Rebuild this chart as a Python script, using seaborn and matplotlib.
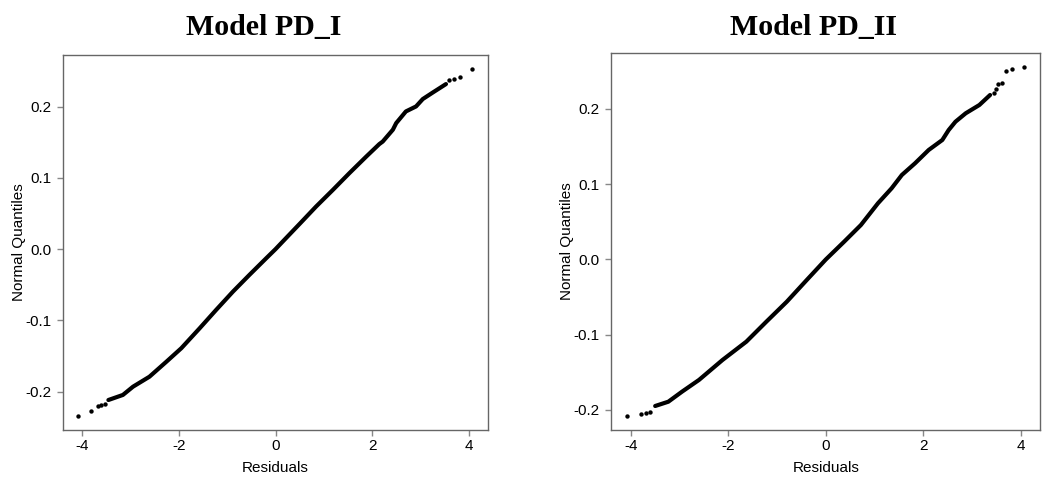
import matplotlib
matplotlib.use("Agg")
import matplotlib.pyplot as plt
import seaborn as sns
import pandas as pd

# ---- data (Residuals vs Normal Quantiles) ----
titles = ["Model PD_I", "Model PD_II"]

pd1_band_x = [-3.46, -3.16, -2.95, -2.61, -2.26, -1.95, -1.57, -1.23, -0.88, -0.54,
              -0.19, 0.0, 0.15, 0.50, 0.84, 1.19, 1.53, 1.88, 2.15, 2.22, 2.43, 2.50,
              2.70, 2.91, 3.05, 3.26, 3.53]
pd1_band_y = [-0.2117, -0.2046, -0.193, -0.179, -0.158, -0.139, -0.111, -0.0853, -0.0595,
              -0.0361, -0.0126, 0.0, 0.0107, 0.0355, 0.0598, 0.0833, 0.1067, 0.130, 0.1475,
              0.151, 0.1676, 0.177, 0.1933, 0.2003, 0.2107, 0.22, 0.2317]
pd1_tail_x = [-4.09, -3.81, -3.68, -3.62, -3.53, 3.60, 3.69, 3.82, 4.07]
pd1_tail_y = [-0.2337, -0.2267, -0.2197, -0.2187, -0.2168, 0.2378, 0.2388, 0.2416, 0.2528]

pd2_band_x = [-3.50, -3.23, -2.95, -2.60, -2.12, -1.63, -1.22, -0.80, -0.39, 0.0, 0.377,
              0.72, 1.07, 1.35, 1.56, 1.83, 2.11, 2.39, 2.52, 2.66, 2.87, 3.15, 3.37]
pd2_band_y = [-0.1947, -0.189, -0.1757, -0.160, -0.1336, -0.1092, -0.0827, -0.0561, -0.0272,
              0.0, 0.0237, 0.0458, 0.0747, 0.0946, 0.1123, 0.1278, 0.1455, 0.1588, 0.172,
              0.1831, 0.1943, 0.2053, 0.2186]
pd2_tail_x = [-4.07, -3.80, -3.68, -3.60, 3.44, 3.49, 3.53, 3.61, 3.69, 3.82, 4.07]
pd2_tail_y = [-0.208, -0.2057, -0.2044, -0.2027, 0.2209, 0.2262, 0.2328, 0.2342, 0.2509,
              0.2528, 0.2562]

x_ticks = [-4, -2, 0, 2, 4]
x_tick_labels = ["-4", "-2", "0", "2", "4"]
y_ticks = [-0.2, -0.1, 0.0, 0.1, 0.2]
y_tick_labels = ["-0.2", "-0.1", "0.0", "0.1", "0.2"]

# ---- styling ----
sns.set_theme(style="white")
plt.rcParams["font.family"] = ["Liberation Sans", "DejaVu Sans"]
plt.rcParams["axes.unicode_minus"] = False

W, H = 1049, 479
fig = plt.figure(figsize=(W / 100, H / 100), dpi=100)

panels = [
    dict(rect=[63 / W, 1 - 430 / H, 425 / W, 375 / H], ylim=(-0.2538, 0.2725),
         bx=pd1_band_x, by=pd1_band_y, tx=pd1_tail_x, ty=pd1_tail_y, tcx=263.5 / W),
    dict(rect=[611.3 / W, 1 - 430 / H, 429 / W, 377 / H], ylim=(-0.2266, 0.2744),
         bx=pd2_band_x, by=pd2_band_y, tx=pd2_tail_x, ty=pd2_tail_y, tcx=814 / W),
]

spine_col = "#666666"
for p, title in zip(panels, titles):
    ax = fig.add_axes(p["rect"])
    band = pd.DataFrame({"Residuals": p["bx"], "Normal Quantiles": p["by"]})
    tail = pd.DataFrame({"Residuals": p["tx"], "Normal Quantiles": p["ty"]})
    sns.lineplot(data=band, x="Residuals", y="Normal Quantiles", ax=ax, color="black",
                 linewidth=3.0, sort=False, estimator=None, solid_capstyle="round",
                 solid_joinstyle="round")
    sns.scatterplot(data=tail, x="Residuals", y="Normal Quantiles", ax=ax, color="black",
                    s=10, linewidth=0)
    ax.set_xlim(-4.40, 4.40)
    ax.set_ylim(*p["ylim"])
    ax.set_xticks(x_ticks)
    ax.set_xticklabels(x_tick_labels)
    ax.set_yticks(y_ticks)
    ax.set_yticklabels(y_tick_labels)
    for s in ax.spines.values():
        s.set_color(spine_col)
        s.set_linewidth(1.0)
        s.set_visible(True)
    ax.tick_params(axis="x", which="both", bottom=True, length=4.3, width=1.0,
                   color="#888888", pad=2.3, labelsize=11, labelcolor="black")
    ax.tick_params(axis="y", which="both", left=True, length=4.0, width=1.0,
                   color="#888888", pad=4.5, labelsize=11, labelcolor="black")
    ax.set_xlabel("Residuals", fontsize=11, color="black")
    ax.set_ylabel("Normal Quantiles", fontsize=11, color="black")
    ax.yaxis.set_label_coords(-0.087, 0.5)
    ax.xaxis.set_label_coords(0.5, -0.082)
    ax.grid(False)
    fig.text(p["tcx"], 1 - 35 / H, title, ha="center", va="baseline",
             fontsize=21.5, fontweight="bold", family=["Liberation Serif", "DejaVu Serif"],
             color="black")

fig.savefig("out.png", dpi=100)
